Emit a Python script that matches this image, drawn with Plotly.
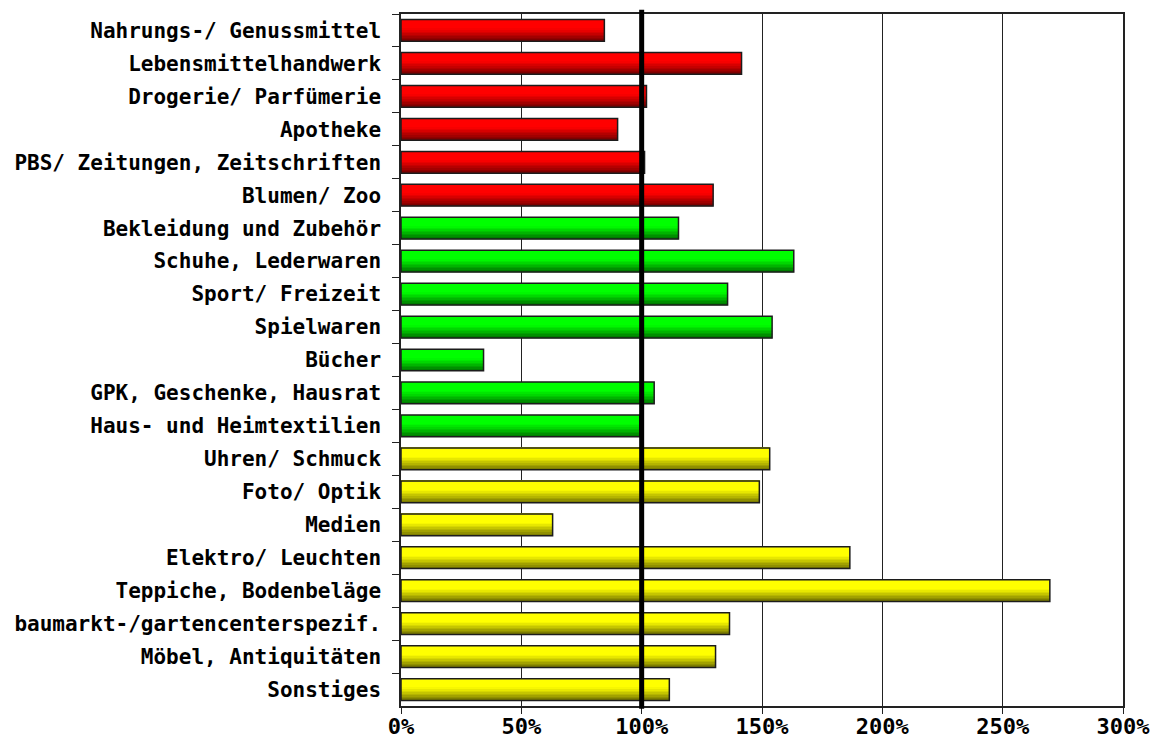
import plotly.graph_objects as go

# Sortiment categories, top to bottom
categories = [
    "Nahrungs-/ Genussmittel", "Lebensmittelhandwerk", "Drogerie/ Parfümerie",
    "Apotheke", "PBS/ Zeitungen, Zeitschriften", "Blumen/ Zoo",
    "Bekleidung und Zubehör", "Schuhe, Lederwaren", "Sport/ Freizeit",
    "Spielwaren", "Bücher", "GPK, Geschenke, Hausrat", "Haus- und Heimtextilien",
    "Uhren/ Schmuck", "Foto/ Optik", "Medien", "Elektro/ Leuchten",
    "Teppiche, Bodenbeläge", "baumarkt-/gartencenterspezif.",
    "Möbel, Antiquitäten", "Sonstiges",
]

# Value per category in percent
values = [
    84.5, 141.5, 102.0, 90.0, 101.2, 129.7,
    115.3, 163.2, 135.7, 154.2, 34.3, 105.2, 99.2,
    153.2, 148.9, 63.0, 186.5, 269.6, 136.5, 130.7, 111.5,
]

# Sortiment group of each category
groups = ["nahversorgung"] * 6 + ["mittelfristig"] * 7 + ["langfristig"] * 8

group_colors = {
    "nahversorgung": (255, 0, 0),
    "mittelfristig": (0, 255, 0),
    "langfristig": (255, 255, 0),
}

x_ticks = [0, 50, 100, 150, 200, 250, 300]
x_tick_labels = ["0%", "50%", "100%", "150%", "200%", "250%", "300%"]
reference_level = 100

FONT = "DejaVu Sans Mono"
BAR_W = 0.66
N_STRIPS = 14


def shade(rgb, t):
    """Vertical shading: bright on top, darkening towards the lower edge."""
    if t < 0.42:
        f = 1.0
    else:
        f = 1.0 - 0.55 * ((t - 0.42) / 0.58) ** 1.1
    return "rgb({},{},{})".format(*(int(round(c * f)) for c in rgb))


fig = go.Figure()

h = BAR_W / N_STRIPS
for i in range(N_STRIPS):
    t = (i + 0.5) / N_STRIPS
    colors = [shade(group_colors[g], t) for g in groups]
    fig.add_trace(go.Bar(
        x=values, y=categories, orientation="h",
        width=h * 1.15, offset=-BAR_W / 2 + i * h,
        marker=dict(color=colors, line=dict(width=0)),
        hoverinfo="skip", showlegend=False,
    ))

# Bar outlines
fig.add_trace(go.Bar(
    x=values, y=categories, orientation="h",
    width=BAR_W, offset=-BAR_W / 2,
    marker=dict(color="rgba(0,0,0,0)", line=dict(color="#1c1c1c", width=1.5)),
    showlegend=False,
))

# Thick 100 % reference line
fig.add_shape(
    type="line", xref="x", yref="paper",
    x0=reference_level, x1=reference_level, y0=-0.004, y1=1.006,
    line=dict(color="black", width=5), layer="above",
)

fig.update_layout(
    width=1154, height=740,
    margin=dict(l=401, r=31, t=14, b=34),
    paper_bgcolor="white", plot_bgcolor="white",
    barmode="overlay",
    font=dict(family=FONT, color="black", size=21, weight="bold"),
)

fig.update_xaxes(
    range=[0, 300], tickvals=x_ticks, ticktext=x_tick_labels,
    showgrid=True, gridcolor="#222222", gridwidth=1,
    showline=True, linecolor="#222222", linewidth=1.5, mirror=True,
    ticks="outside", ticklen=6, tickcolor="#222222",
    ticklabelstandoff=-6,
    tickfont=dict(family=FONT, size=22, weight="bold"),
    zeroline=False, fixedrange=True, automargin=False,
)

fig.update_yaxes(
    categoryorder="array", categoryarray=categories, autorange="reversed",
    showgrid=False,
    showline=True, linecolor="#222222", linewidth=1.5, mirror=True,
    ticks="outside", ticklen=7, tickcolor="#222222", tickson="boundaries",
    ticklabelstandoff=14,
    tickfont=dict(family=FONT, size=21, weight="bold"),
    fixedrange=True, automargin=False,
)

fig.write_html("out.html")
